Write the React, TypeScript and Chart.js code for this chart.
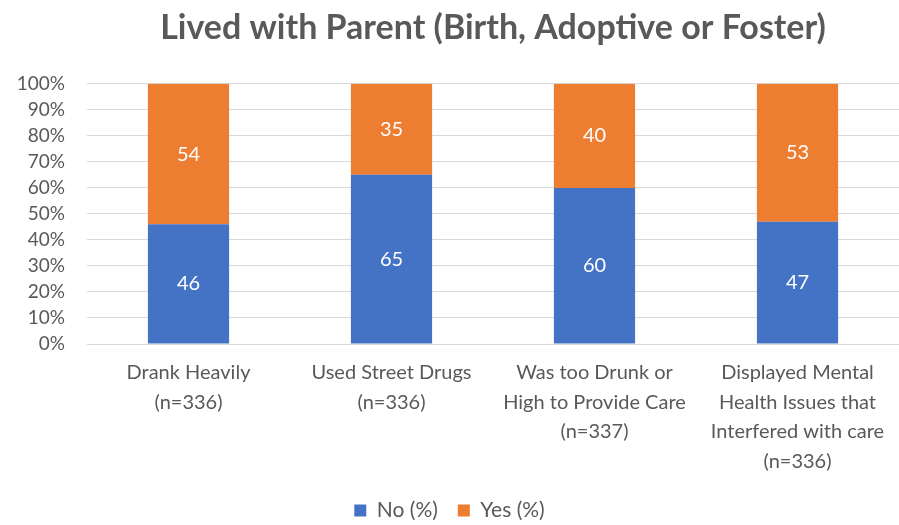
import React, { useEffect, useRef } from "react";
import { Chart, registerables } from "chart.js";

Chart.register(...registerables);

const categories: string[][] = [
  ["Drank Heavily", "(n=336)"],
  ["Used Street Drugs", "(n=336)"],
  ["Was too Drunk or", "High to Provide Care", "(n=337)"],
  ["Displayed Mental", "Health Issues that", "Interfered with care", "(n=336)"],
];
const noValues = [46, 65, 60, 47];
const yesValues = [54, 35, 40, 53];
const seriesNames = ["No (%)", "Yes (%)"];
const colors = ["#4472C4", "#ED7D31"];

const FONT = "Lato, 'Open Sans', sans-serif";
const TEXT = "#595959";

const labelPlugin = {
  id: "barLabels",
  afterDatasetsDraw(chart: any) {
    const ctx = chart.ctx;
    ctx.save();
    ctx.fillStyle = "#ffffff";
    ctx.font = `20px ${FONT}`;
    ctx.textAlign = "center";
    ctx.textBaseline = "middle";
    chart.data.datasets.forEach((ds: any, i: number) => {
      const meta = chart.getDatasetMeta(i);
      meta.data.forEach((bar: any, j: number) => {
        const y = (bar.y + bar.base) / 2;
        ctx.fillText(String(ds.data[j]), bar.x, y);
      });
    });
    ctx.restore();
  },
};

export default function App() {
  const ref = useRef<HTMLCanvasElement>(null);
  useEffect(() => {
    if (!ref.current) return;
    const chart = new Chart(ref.current, {
      type: "bar",
      data: {
        labels: categories,
        datasets: [
          { label: seriesNames[0], data: noValues, backgroundColor: colors[0] },
          { label: seriesNames[1], data: yesValues, backgroundColor: colors[1] },
        ],
      },
      options: {
        animation: false,
        responsive: true,
        maintainAspectRatio: false,
        layout: { padding: { left: 0, right: 0, top: 8, bottom: -6 } },
        datasets: { bar: { barPercentage: 0.4, categoryPercentage: 1 } } as any,
        plugins: {
          title: {
            display: true,
            fullSize: false,
            text: "Lived with Parent (Birth, Adoptive or Foster)",
            color: TEXT,
            font: { family: FONT, size: 34, weight: "bold", lineHeight: 1.2 },
            padding: { top: 0, bottom: 35 },
          },
          legend: {
            position: "bottom",
            labels: {
              color: TEXT,
              font: { family: FONT, size: 21 },
              boxWidth: 12,
              boxHeight: 12,
              padding: 20,
            },
          },
          tooltip: { enabled: false },
        },
        scales: {
          x: {
            stacked: true,
            grid: { display: false },
            border: { display: false },
            ticks: {
              color: TEXT,
              font: { family: FONT, size: 20, lineHeight: 1.48 },
              maxRotation: 0,
              autoSkip: false,
              padding: 6,
            },
            afterFit: (s: any) => {
              s.height = 136;
            },
          },
          y: {
            stacked: true,
            min: 0,
            max: 100,
            border: { display: false },
            grid: { color: "#d9d9d9", lineWidth: 1, drawTicks: false },
            ticks: {
              stepSize: 10,
              autoSkip: false,
              color: TEXT,
              font: { family: FONT, size: 19 },
              padding: 22,
              callback: (v: any) => v + "%",
            },
            afterFit: (s: any) => {
              s.width = 87;
            },
          },
        },
      },
      plugins: [labelPlugin],
    });
    return () => chart.destroy();
  }, []);
  return (
    <div style={{ position: "fixed", left: 0, top: 0, width: 899, height: 525, background: "#fff" }}>
      <canvas ref={ref} />
    </div>
  );
}
